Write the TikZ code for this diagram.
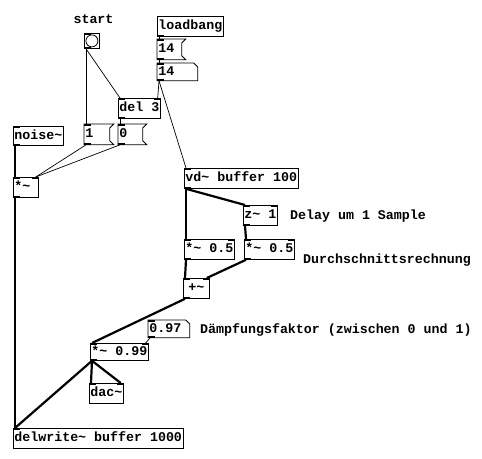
\documentclass[tikz,border=0pt]{standalone}
\usepackage{fontspec}
\setmonofont{Liberation Mono}
\usetikzlibrary{positioning}

\begin{document}
\begin{tikzpicture}[
    x=1pt, y=-1pt,
    font=\ttfamily\bfseries\fontsize{13.3}{15}\selectfont,
    obj/.style={draw, line width=0.8pt, anchor=north west, inner xsep=1pt, inner ysep=0pt, minimum height=20pt, text height=10pt, text depth=3pt},
    msg/.style={obj, draw=none, inner xsep=0pt, text width=#1-2pt, align=left, xshift=0pt},
    atom/.style={msg=#1, minimum height=17pt},
    cmt/.style={anchor=base west, inner sep=0pt},
    outline/.style={draw, line width=0.8pt},
    ctl/.style={line width=0.7pt},
    sig/.style={line width=2.2pt}
]
    \useasboundingbox (0,0) rectangle (482,458);

    % Control part
    \node[cmt, anchor=base] (lstart) at (93.5,23) {start};
    \node[obj, minimum width=15pt, minimum height=15pt, inner sep=0pt] (bang) at (84,33) {};
    \draw[line width=0.8pt] (bang.center) circle (6);
    \node[obj] (load) at (157,16) {loadbang};
    \node[msg=30pt] (m14) at (157,39) {\hspace{1pt}14};
    \node[atom=42pt] (a14) at (157,63) {\hspace{1pt}14};
    \node[obj] (del) at (118,98) {del 3};
    \node[msg=31pt] (mone) at (84,124) {\hspace{1pt}1};
    \node[msg=30pt] (mzero) at (118,124) {\hspace{1pt}0};

    % Signal part
    \node[obj, minimum height=19pt] (noise) at (13,126) {noise\char`~};
    \node[obj, minimum width=25pt, align=left] (mul) at (13,177) {*\char`~\hspace{7pt}};
    \node[obj] (vd) at (184,168) {vd\char`~{} buffer 100};
    \node[obj] (z) at (243,205) {z\char`~{} 1};
    \node[obj] (mulL) at (184,239) {*\char`~{} 0.5};
    \node[obj] (mulR) at (244,239) {*\char`~{} 0.5};
    \node[obj, minimum width=26pt] (plus) at (183,278) {+\char`~\hspace{8pt}};
    \node[atom=43pt] (a097) at (148,320) {\hspace{1pt}0.97};
    \node[obj, minimum height=17pt] (mul99) at (90,343) {*\char`~{} 0.99};
    \node[obj] (dac) at (89,383) {dac\char`~};
    \node[obj] (delw) at (13,428) {delwrite\char`~{} buffer 1000};

    % Comments
    \node[cmt] (cdelay) at (290,219) {Delay um 1 Sample};
    \node[cmt] (cavg) at (303,263) {Durchschnittsrechnung};
    \node[cmt] (cdamp) at (200,333) {Dämpfungsfaktor (zwischen 0 und 1)};

    % Message and number box outlines
    \foreach \m in {m14, mone, mzero}
        \draw[outline] (\m.north west) -- (\m.north east) -- ([shift={(-4,4)}]\m.north east)
            -- ([shift={(-4,-4)}]\m.south east) -- (\m.south east) -- (\m.south west) -- cycle;
    \foreach \a in {a14, a097}
        \draw[outline] (\a.north west) -- ([xshift=-4pt]\a.north east) -- ([shift={(0,4)}]\a.north east)
            -- (\a.south east) -- (\a.south west) -- cycle;

    % Inlets and outlets
    \foreach \n in {bang, m14, a14, del, mone, mzero, noise, mul, vd, z, mulL, mulR, plus, a097, mul99, dac, delw}
        \fill (\n.north west) rectangle ++(7,2);
    \foreach \n in {del, mul, z, mulL, mulR, plus, mul99, dac}
        \fill (\n.north east) rectangle ++(-7,2);
    \foreach \n in {bang, load, m14, a14, del, mone, mzero, noise, mul, vd, z, mulL, mulR, plus, a097, mul99}
        \fill (\n.south west) rectangle ++(7,-2);

    % Control connections
    \draw[ctl] ([xshift=2pt]bang.south west) -- ([xshift=2pt]mone.north west);
    \draw[ctl] ([xshift=2pt]bang.south west) -- ([xshift=2pt]del.north west);
    \draw[ctl] ([xshift=2pt]load.south west) -- ([xshift=2pt]m14.north west);
    \draw[ctl] ([xshift=2pt]m14.south west) -- ([xshift=2pt]a14.north west);
    \draw[ctl] ([xshift=2pt]a14.south west) -- ([xshift=-3pt]del.north east);
    \draw[ctl] ([xshift=2pt]a14.south west) -- ([xshift=2pt]vd.north west);
    \draw[ctl] ([xshift=2pt]del.south west) -- ([xshift=2pt]mzero.north west);
    \draw[ctl] ([xshift=2pt]mone.south west) -- ([xshift=-3pt]mul.north east);
    \draw[ctl] ([xshift=2pt]mzero.south west) -- ([xshift=-3pt]mul.north east);
    \draw[ctl] ([xshift=2pt]a097.south west) -- ([xshift=-3pt]mul99.north east);

    % Signal connections
    \draw[sig] ([xshift=2pt]noise.south west) -- ([xshift=2pt]mul.north west);
    \draw[sig] ([xshift=2pt]mul.south west) -- ([xshift=2pt]delw.north west);
    \draw[sig] ([xshift=2pt]vd.south west) -- ([xshift=2pt]mulL.north west);
    \draw[sig] ([xshift=2pt]vd.south west) -- ([xshift=2pt]z.north west);
    \draw[sig] ([xshift=2pt]z.south west) -- ([xshift=2pt]mulR.north west);
    \draw[sig] ([xshift=2pt]mulL.south west) -- ([xshift=2pt]plus.north west);
    \draw[sig] ([xshift=2pt]mulR.south west) -- ([xshift=-3pt]plus.north east);
    \draw[sig] ([xshift=2pt]plus.south west) -- ([xshift=2pt]mul99.north west);
    \draw[sig] ([xshift=2pt]mul99.south west) -- ([xshift=2pt]dac.north west);
    \draw[sig] ([xshift=2pt]mul99.south west) -- ([xshift=-3pt]dac.north east);
    \draw[sig] ([xshift=2pt]mul99.south west) -- ([xshift=2pt]delw.north west);
\end{tikzpicture}
\end{document}
